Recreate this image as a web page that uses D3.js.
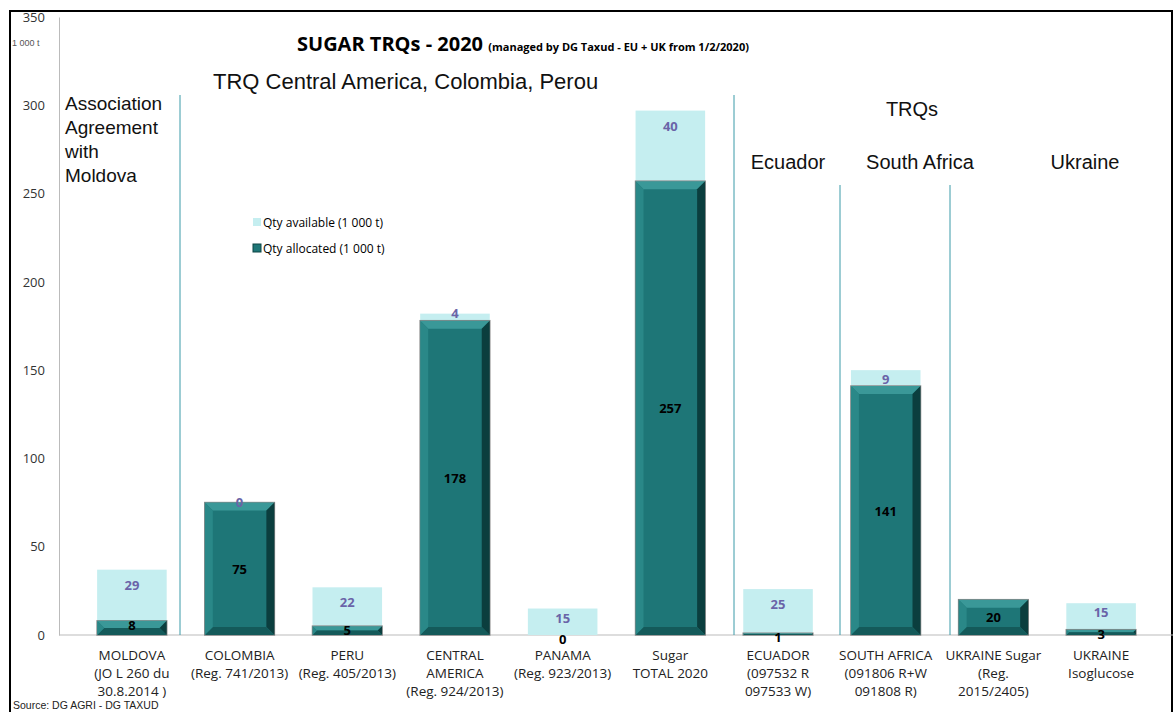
<!DOCTYPE html>
<html><head><meta charset="utf-8">
<script src="https://cdn.jsdelivr.net/npm/d3@7"></script>
<style>body{margin:0;background:#fff}svg{font-family:"Liberation Sans",Arial,sans-serif}</style>
</head><body><svg id="c" width="1173" height="712"></svg>
<script>
// data
const categories = [
  ['MOLDOVA','(JO L 260 du','30.8.2014 )'],
  ['COLOMBIA','(Reg. 741/2013)'],
  ['PERU','(Reg. 405/2013)'],
  ['CENTRAL','AMERICA','(Reg. 924/2013)'],
  ['PANAMA','(Reg. 923/2013)'],
  ['Sugar','TOTAL 2020'],
  ['ECUADOR','(097532 R','097533 W)'],
  ['SOUTH AFRICA','(091806 R+W','091808 R)'],
  ['UKRAINE Sugar','(Reg.','2015/2405)'],
  ['UKRAINE','Isoglucose']
]
const allocated = [8, 75, 5, 178, 0, 257, 1, 141, 20, 3]
const available = [29, 0, 22, 4, 15, 40, 25, 9, 0, 15]
const yTicks = [0, 50, 100, 150, 200, 250, 300, 350]

const svg = d3.select('#c')
const x = d3.scaleBand().domain(d3.range(categories.length)).range([59, 1174]).padding(0.354)
const y = d3.scaleLinear().domain([0, 350]).range([635, 17])

// frame
svg.append('rect').attr('x', 10).attr('y', 11).attr('width', 1162).attr('height', 710)
  .attr('fill', 'none').attr('stroke', '#000').attr('stroke-width', 2)

// y axis
const yAxis = d3.axisLeft(y).tickValues(yTicks).tickSize(0).tickPadding(14)
const ga = svg.append('g').attr('transform', 'translate(59,0)').call(yAxis)
ga.select('.domain').attr('stroke', '#bbb')
ga.selectAll('text').attr('font-size', 13).attr('fill', '#333').attr('font-family', 'Open Sans')
svg.append('text').attr('x', 12).attr('y', 46).attr('font-size', 9).attr('fill', '#555').text('1 000 t')
svg.append('line').attr('x1', 59).attr('x2', 1173).attr('y1', y(0)).attr('y2', y(0)).attr('stroke', '#bbb')

// separators
const seps = [[180, 95], [734, 95], [840, 185], [950, 185]]
seps.forEach(s => svg.append('line').attr('x1', s[0]).attr('x2', s[0]).attr('y1', s[1]).attr('y2', y(0))
  .attr('stroke', '#3a9aa8').attr('stroke-width', 1))

const bw = x.bandwidth()
// available part
svg.selectAll('.av').data(d3.range(categories.length).filter(i => available[i] > 0)).join('rect')
  .attr('x', i => x(i)).attr('width', bw)
  .attr('y', i => y(allocated[i] + available[i])).attr('height', i => y(allocated[i]) - y(allocated[i] + available[i]))
  .attr('fill', '#c5eef0')

// allocated part (bevelled)
const ag = svg.selectAll('.al').data(d3.range(categories.length).filter(i => allocated[i] > 0)).join('g')
ag.each(function(i) {
  const g = d3.select(this)
  const x0 = x(i), x1 = x0 + bw, y0 = y(allocated[i]), y1 = y(0)
  const h = y1 - y0, b = Math.min(8, h / 2)
  g.append('rect').attr('x', x0).attr('y', y0).attr('width', bw).attr('height', h).attr('fill', '#1e7677').attr('stroke', '#888').attr('stroke-width', 1.5)
  g.append('polygon').attr('points', [[x0, y0], [x1, y0], [x1 - b, y0 + b], [x0 + b, y0 + b]].join(' ')).attr('fill', '#3a9898')
  g.append('polygon').attr('points', [[x1, y0], [x1, y1], [x1 - b, y1 - b], [x1 - b, y0 + b]].join(' ')).attr('fill', '#0b3e3e')
  g.append('polygon').attr('points', [[x0, y1], [x1, y1], [x1 - b, y1 - b], [x0 + b, y1 - b]].join(' ')).attr('fill', '#145a5a')
  g.append('polygon').attr('points', [[x0, y0], [x0, y1], [x0 + b, y1 - b], [x0 + b, y0 + b]].join(' ')).attr('fill', '#2a8888')
})

// labels
svg.selectAll('.lav').data(d3.range(categories.length).filter(i => available[i] > 0 || i === 1 || i === 3)).join('text')
  .attr('x', i => x(i) + bw / 2).attr('y', i => y(allocated[i] + available[i]) + (available[i] > 5 ? (available[i] < 20 ? 14 : 20) : 4))
  .attr('text-anchor', 'middle').attr('font-size', 13).attr('font-weight', 'bold').attr('fill', '#6a64a8')
  .attr('font-family', 'Open Sans').text(i => available[i])
svg.selectAll('.lal').data(d3.range(categories.length)).join('text')
  .attr('x', i => x(i) + bw / 2).attr('y', i => allocated[i] > 15 ? y(allocated[i] / 2) + 5 : y(allocated[i]) + 9)
  .attr('text-anchor', 'middle').attr('font-size', 13).attr('font-weight', 'bold').attr('fill', '#000')
  .attr('font-family', 'Open Sans').text(i => allocated[i])

// x labels
categories.forEach((lines, i) => {
  const t = svg.append('text').attr('text-anchor', 'middle').attr('font-size', 13.5).attr('fill', '#222').attr('font-family', 'Open Sans')
  lines.forEach((l, k) => t.append('tspan').attr('x', x(i) + bw / 2).attr('y', 660 + k * 18).text(l))
})
svg.append('text').attr('x', 13).attr('y', 709).attr('font-size', 10.5).attr('fill', '#222').text('Source: DG AGRI - DG TAXUD')

// legend
const legend = [['Qty available (1 000 t)', '#c5eef0'], ['Qty allocated (1 000 t)', '#1e7677']]
legend.forEach((d, k) => {
  svg.append('rect').attr('x', 253).attr('y', 218 + k * 26).attr('width', 8).attr('height', 8).attr('fill', d[1]).attr('stroke', k ? '#0d4444' : 'none')
  svg.append('text').attr('x', 263).attr('y', 227 + k * 26).attr('font-size', 12).attr('font-family', 'Open Sans').text(d[0])
})

// titles and group notes
const title = svg.append('text').attr('x', 297).attr('y', 51).attr('font-weight', 'bold').attr('font-family', 'Open Sans')
title.append('tspan').attr('font-size', 20).text('SUGAR TRQs - 2020 ')
title.append('tspan').attr('font-size', 11).text('(managed by DG Taxud  -  EU + UK from 1/2/2020)')
const notes = [
  [213, 89, 22, 'start', 'TRQ Central America, Colombia, Perou'],
  [65, 110, 19, 'start', 'Association'], [65, 134, 19, 'start', 'Agreement'],
  [65, 158, 19, 'start', 'with'], [65, 182, 19, 'start', 'Moldova'],
  [912, 116, 20, 'middle', 'TRQs'], [788, 169, 20, 'middle', 'Ecuador'],
  [920, 169, 20, 'middle', 'South Africa'], [1085, 169, 20, 'middle', 'Ukraine']
]
notes.forEach(n => svg.append('text').attr('x', n[0]).attr('y', n[1]).attr('font-size', n[2]).attr('text-anchor', n[3]).attr('fill', '#111').text(n[4]))
</script></body></html>
